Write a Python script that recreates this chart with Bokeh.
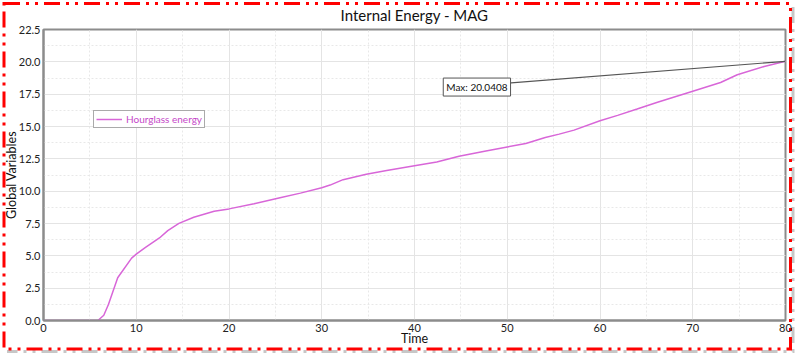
from urllib.parse import quote
from bokeh.plotting import figure
from bokeh.models import (ColumnDataSource, Legend, LegendItem, Label,
                          Range1d, SingleIntervalTicker, NumeralTickFormatter)
from bokeh.embed import file_html
from bokeh.resources import INLINE

# ---- data ----
time = [0, 4, 5.9, 6.5, 7.0, 8.0, 9.5, 10, 11, 12.5, 13.4, 14.6, 16.2, 18.4, 20,
        22.7, 25.5, 27.7, 30, 30.9, 32.3, 34.8, 37, 40, 42.4, 44.8, 47.7, 50, 52,
        54.1, 55.6, 57.2, 60, 61.9, 64, 66.2, 70, 73, 74.8, 77.7, 80]
energy = [0, 0, 0.02, 0.41, 1.24, 3.31, 4.82, 5.13, 5.65, 6.38, 6.95, 7.51, 7.98,
          8.45, 8.63, 9.02, 9.49, 9.85, 10.27, 10.47, 10.89, 11.3, 11.6, 11.97,
          12.26, 12.7, 13.1, 13.42, 13.69, 14.15, 14.41, 14.72, 15.44, 15.86,
          16.35, 16.87, 17.73, 18.4, 19.0, 19.64, 20.0408]
series_name = "Hourglass energy"
title_text = "Internal Energy - MAG"
x_label = "Time"
y_label = "Global Variables"

FONT = "Lato"
LINE_COLOR = "#d866d8"
TEXT_MAG = "#c548c8"

imax = max(range(len(energy)), key=lambda i: energy[i])
max_t, max_v = time[imax], energy[imax]

p = figure(width=800, height=357, output_backend="svg", toolbar_location=None,
           x_range=Range1d(0, 80), y_range=Range1d(0, 22.5),
           min_border_left=42, min_border_right=15, min_border_top=29,
           min_border_bottom=37)
p.background_fill_color = "white"
p.border_fill_alpha = 0
p.outline_line_color = "#8c8c8c"
p.outline_line_width = 2

p.title.text = title_text
p.title.align = "center"
p.title.vertical_align = "top"
p.title.text_font = FONT
p.title.text_font_size = "15px"
p.title.text_font_style = "normal"
p.title.text_color = "#111111"
p.title.text_line_height = 0.6
p.title.standoff = 8

p.xaxis.ticker = SingleIntervalTicker(interval=10, num_minor_ticks=2)
p.yaxis.ticker = SingleIntervalTicker(interval=2.5, num_minor_ticks=2)
p.yaxis.formatter = NumeralTickFormatter(format="0.0")
for ax in (p.xaxis, p.yaxis):
    ax.major_tick_line_color = None
    ax.minor_tick_line_color = None
    ax.major_tick_out = 0
    ax.minor_tick_out = 0
    ax.major_tick_in = 0
    ax.minor_tick_in = 0
    ax.axis_line_color = "#8c8c8c"
    ax.axis_line_width = 2
    ax.major_label_text_font = FONT
    ax.major_label_text_font_size = "11px"
    ax.major_label_text_color = "#222222"
    ax.axis_label_text_font = FONT
    ax.axis_label_text_font_size = "12.5px"
    ax.axis_label_text_font_style = "normal"
    ax.axis_label_text_color = "#111111"
    ax.major_label_standoff = 3
p.xaxis.axis_label = x_label
p.yaxis.axis_label = y_label
p.xaxis.axis_label_standoff = -4
p.yaxis.axis_label_standoff = -3

p.grid.grid_line_color = "#e4e4e4"
p.grid.grid_line_width = 1
p.grid.minor_grid_line_color = "#e8e8e8"
p.grid.minor_grid_line_dash = "2 2"

src = ColumnDataSource(dict(t=time, e=energy))
r = p.line("t", "e", source=src, line_color=LINE_COLOR, line_width=1.5)

# max annotation
lab_t, lab_v = 43.1, 18.05
p.line([50.0, max_t], [18.35, max_v], line_color="#555555", line_width=1.2)
p.add_layout(Label(x=lab_t, y=lab_v, text=f"Max: {max_v:.4f}", text_font=FONT,
                   text_font_size="10px", text_color="#111111",
                   text_baseline="middle", border_line_color="#555555",
                   border_line_width=1, background_fill_color="white",
                   padding=3))

legend = Legend(items=[LegendItem(label=series_name, renderers=[r])],
                location=(50, 192), label_text_font=FONT,
                label_text_font_size="10px", label_text_color=TEXT_MAG,
                border_line_color="#555555", border_line_width=1,
                padding=2, margin=0, spacing=0, glyph_width=26,
                glyph_height=10, label_height=10, label_standoff=4,
                background_fill_alpha=1)
p.add_layout(legend, "center")

# outer dash-dot frame with drop shadow (page decoration behind the canvas)
svg = ("<svg xmlns='http://www.w3.org/2000/svg' width='800' height='357'>"
       "<g fill='none' stroke-width='3' stroke-dasharray='16 6 3 6 3 6'>"
       "<path d='M793 7 V351.5 H7' stroke='#999999' stroke-opacity='0.55'/>"
       "<rect x='4' y='3.5' width='786.5' height='345.5' stroke='#ff0000'/>"
       "</g></svg>")
p.styles = {"background-image": f"url(\"data:image/svg+xml,{quote(svg)}\")",
            "background-repeat": "no-repeat",
            "background-color": "white"}

open("out.html", "w").write(file_html(p, INLINE))
